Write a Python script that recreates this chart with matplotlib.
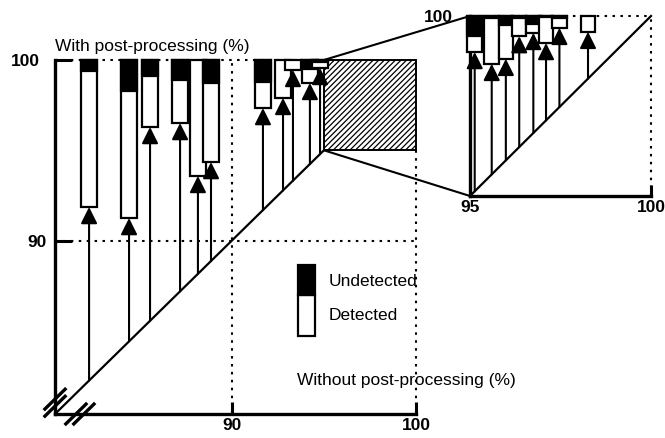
import matplotlib
matplotlib.use("Agg")
import matplotlib.pyplot as plt
from matplotlib.patches import Rectangle, ConnectionPatch

plt.rcParams['font.family'] = ['Liberation Sans', 'DejaVu Sans']
plt.rcParams['hatch.linewidth'] = 0.9

# main panel: x = without post-processing, y = with post-processing (%)
main_without = [82.25, 84.42, 85.56, 87.19, 88.16, 88.87, 91.69, 92.78, 93.32, 94.24, 94.79]
main_with = [91.86, 91.25, 96.29, 96.51, 93.58, 94.35, 97.34, 97.90, 99.45, 98.73, 99.56]
main_undet = [99.39, 98.28, 99.11, 98.89, 100, 98.73, 98.78, 100, 100, 99.50, 99.88]

# zoomed panel (95-100 %)
zoom_without = [95.13, 95.60, 95.99, 96.36, 96.75, 97.10, 97.47, 98.26]
zoom_with = [99.00, 98.67, 98.81, 99.44, 99.53, 99.25, 99.67, 99.56]
zoom_undet = [99.44, 99.94, 99.75, 99.94, 99.78, 99.96, 99.94, 100]

main_ticks = [90, 100]
zoom_ticks = [95, 100]

dots = (0, (1.2, 2.6))


def draw_points(ax, xs, ys, undet, width):
    for x, y, u in zip(xs, ys, undet):
        ax.bar(x, 100 - y, bottom=y, width=width, facecolor='white',
               edgecolor='black', lw=1.6, zorder=3, clip_on=False)
        if u < 100:
            ax.bar(x, 100 - u, bottom=u, width=width, color='black',
                   edgecolor='black', lw=1.6, zorder=3, clip_on=False)
        ax.annotate('', xy=(x, y), xytext=(x, x),
                    arrowprops=dict(arrowstyle='-|>,head_length=0.5,head_width=0.25',
                                    mutation_scale=20, lw=1.5, color='black',
                                    shrinkA=0, shrinkB=0),
                    annotation_clip=False, zorder=4)


fig = plt.figure(figsize=(6.65, 4.38), dpi=100)

# ---- main axes
ax = fig.add_axes([55 / 665, 24 / 438, 361 / 665, 354 / 438])
lo = 80.4
ax.set_xlim(lo, 100)
ax.set_ylim(lo, 100)
for s in ['top', 'right']:
    ax.spines[s].set_visible(False)
for s in ['left', 'bottom']:
    ax.spines[s].set_linewidth(2.4)

ax.set_xticks(main_ticks)
ax.set_yticks(main_ticks)
ax.set_xticklabels([str(t) for t in main_ticks], fontweight='bold')
ax.set_yticklabels([str(t) for t in main_ticks], fontweight='bold')
ax.tick_params(axis='x', direction='in', length=9, width=2.2, labelsize=12.5, pad=3)
ax.tick_params(axis='y', direction='in', length=12, width=2.2, labelsize=12.5, pad=6)
ax.yaxis.get_major_ticks()[1].set_pad(11)

# reference lines
ax.hlines(100, lo, zoom_ticks[0], colors='black', lw=1.5, linestyles=dots, clip_on=False)
ax.hlines(90, lo, 100, colors='black', lw=1.5, linestyles=dots)
ax.vlines(90, lo, 100, colors='black', lw=1.5, linestyles=dots, clip_on=False)
ax.vlines(100, lo, zoom_ticks[0], colors='black', lw=1.5, linestyles=dots, clip_on=False)

# identity line
ax.plot([lo, zoom_ticks[0]], [lo, zoom_ticks[0]], color='black', lw=1.6, clip_on=False)

# hatched region that is enlarged
zw = zoom_ticks[1] - zoom_ticks[0]
ax.add_patch(Rectangle((zoom_ticks[0], zoom_ticks[0]), zw, zw, facecolor='white',
                       edgecolor='black', hatch='//////', lw=1.4, zorder=2, clip_on=False))

draw_points(ax, main_without, main_with, main_undet, 0.85)

# axis break marks
for c in [0.022, 0.042]:
    ax.plot([-0.028, 0.028], [c - 0.028, c + 0.028], transform=ax.transAxes,
            color='black', lw=2.4, clip_on=False, zorder=5)
for c in [0.058, 0.08]:
    ax.plot([c - 0.028, c + 0.028], [-0.028, 0.028], transform=ax.transAxes,
            color='black', lw=2.4, clip_on=False, zorder=5)

# legend
ax.add_patch(Rectangle((0.673, 0.220), 0.047, 0.116, transform=ax.transAxes,
                       facecolor='white', edgecolor='black', lw=1.6, clip_on=False))
ax.add_patch(Rectangle((0.673, 0.336), 0.047, 0.085, transform=ax.transAxes,
                       facecolor='black', edgecolor='black', lw=1.6, clip_on=False))
ax.text(0.757, 0.373, 'Undetected', transform=ax.transAxes, fontsize=12.5, va='center')
ax.text(0.757, 0.277, 'Detected', transform=ax.transAxes, fontsize=12.5, va='center')

fig.text(55 / 665, 1 - 46 / 438, 'With post-processing (%)', fontsize=12.5, va='center')
fig.text(297 / 665, 1 - 380 / 438, 'Without post-processing (%)', fontsize=12.5, va='center')

# ---- zoomed axes
ax2 = fig.add_axes([470 / 665, (438 - 196) / 438, 181 / 665, 180 / 438])
ax2.set_xlim(zoom_ticks[0], zoom_ticks[1])
ax2.set_ylim(zoom_ticks[0], zoom_ticks[1])
ax2.patch.set_alpha(0)
for s in ['top', 'right']:
    ax2.spines[s].set_visible(False)
for s in ['left', 'bottom']:
    ax2.spines[s].set_linewidth(2.4)
ax2.set_xticks(zoom_ticks)
ax2.set_yticks([zoom_ticks[1]])
ax2.set_xticklabels([str(t) for t in zoom_ticks], fontweight='bold')
ax2.set_yticklabels([str(zoom_ticks[1])], fontweight='bold')
ax2.tick_params(axis='x', direction='in', length=8, width=2.2, labelsize=12.5, pad=3)
ax2.tick_params(axis='y', direction='in', length=0, labelsize=12.5, pad=12)
ax2.hlines(100, zoom_ticks[0], 100, colors='black', lw=1.5, linestyles=dots, clip_on=False)
ax2.vlines(100, zoom_ticks[0], 100, colors='black', lw=1.5, linestyles=dots, clip_on=False)
ax2.plot(zoom_ticks, zoom_ticks, color='black', lw=1.6, clip_on=False)

draw_points(ax2, zoom_without, zoom_with, zoom_undet, 0.4)

# connectors between hatched box and zoomed panel
for yv in zoom_ticks[::-1]:
    con = ConnectionPatch(xyA=(zoom_ticks[0], yv), coordsA=ax.transData,
                          xyB=(zoom_ticks[0], yv), coordsB=ax2.transData,
                          color='black', lw=1.5)
    fig.add_artist(con)

fig.savefig('out.png', dpi=100)
